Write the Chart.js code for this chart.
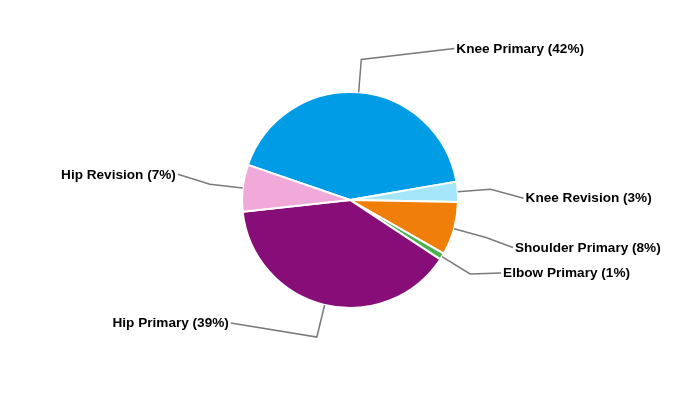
<!DOCTYPE html>
<html>
<head>
<meta charset="utf-8">
<script src="https://cdn.jsdelivr.net/npm/chart.js@4.4.1/dist/chart.umd.min.js"></script>
<style>
html,body{margin:0;padding:0;background:#fff;}
#wrap{width:700px;height:400px;}
</style>
</head>
<body>
<div id="wrap"><canvas id="c" width="700" height="400"></canvas></div>
<script>
const categories = ["Knee Primary", "Knee Revision", "Shoulder Primary", "Elbow Primary", "Hip Primary", "Hip Revision"];
const shares = [42, 3, 8, 1, 39, 7];
const sliceColors = ["#009de6", "#a5e6fa", "#f07f09", "#4caf50", "#870e78", "#f0a9d8"];

// label placement relative to the leader-line elbow (layout only)
const labelOffsets = [[93, -11], [33, 9], [27, 10], [31, -1], [-86, -14], [-32, -10]];

const leaderPlugin = {
  id: 'leaders',
  afterDatasetsDraw(chart) {
    const ctx = chart.ctx;
    const meta = chart.getDatasetMeta(0);
    ctx.save();
    ctx.strokeStyle = '#7a7a7a';
    ctx.lineWidth = 1.5;
    ctx.font = 'bold 13.6px "Liberation Sans", Arial, sans-serif';
    ctx.fillStyle = '#000';
    ctx.textBaseline = 'middle';
    meta.data.forEach((arc, i) => {
      const p = arc.getProps(['x', 'y', 'startAngle', 'endAngle', 'outerRadius'], true);
      const mid = (p.startAngle + p.endAngle) / 2;
      const r = p.outerRadius;
      const ax = p.x + Math.cos(mid) * r, ay = p.y + Math.sin(mid) * r;
      const ex = p.x + Math.cos(mid) * (r + 33), ey = p.y + Math.sin(mid) * (r + 33);
      const lx = ex + labelOffsets[i][0], ly = ey + labelOffsets[i][1];
      ctx.beginPath();
      ctx.moveTo(ax, ay);
      ctx.lineTo(ex, ey);
      ctx.lineTo(lx, ly);
      ctx.stroke();
      const text = categories[i] + ' (' + shares[i] + '%)';
      const right = lx > p.x;
      ctx.textAlign = right ? 'left' : 'right';
      ctx.fillText(text, right ? lx + 2 : lx - 2, ly + 0.5);
    });
    ctx.restore();
  }
};

new Chart(document.getElementById('c'), {
  type: 'pie',
  data: {
    labels: categories,
    datasets: [{
      data: shares,
      backgroundColor: sliceColors,
      borderColor: '#ffffff',
      borderWidth: 2
    }]
  },
  options: {
    responsive: false,
    animation: false,
    rotation: -71,
    layout: { padding: { left: 241, right: 241, top: 91, bottom: 91 } },
    plugins: { legend: { display: false }, tooltip: { enabled: false } }
  },
  plugins: [leaderPlugin]
});
</script>
</body>
</html>
